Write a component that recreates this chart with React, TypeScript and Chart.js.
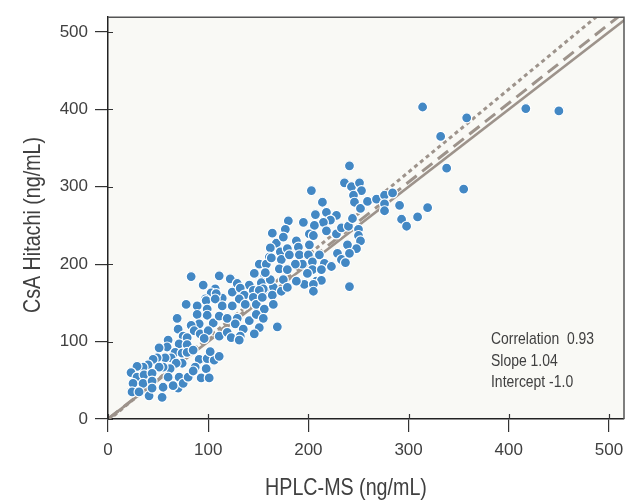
import React, { useEffect, useRef } from "react";
import { Chart, registerables } from "chart.js";

Chart.register(...registerables);

// HPLC-MS values (x) and CsA Hitachi values (y)
const hplcValues = [
  314, 358, 332, 417, 450, 338, 355, 319, 309, 293, 298, 241, 241, 291, 236, 243, 251, 253, 245, 246,
  252, 259, 268, 276, 284, 276, 276, 203, 214, 218, 207, 228, 222, 215, 206, 195, 180, 177, 164, 168,
  175, 162, 161, 151, 158, 147, 156, 141, 153, 165, 156, 164, 128, 172, 179, 188, 190, 201, 191, 200,
  211, 194, 187, 204, 216, 204, 213, 199, 208, 213, 196, 205, 188, 205, 223, 201, 205, 218, 228, 233,
  240, 250, 250, 252, 248, 239, 229, 233, 237, 241, 244,
  173, 163, 171, 146, 162, 175, 155, 83, 95, 111, 122, 107, 129, 103, 114, 124, 132, 97, 145, 136,
  131, 181, 179, 157, 173, 179, 153,
  108, 151, 78, 89, 98, 107, 99, 114, 124, 137, 145, 148, 154, 156, 165, 69, 89, 99, 91, 105,
  111, 119, 129, 127, 135, 141, 148, 155, 151, 146, 169, 70, 83, 86, 75, 71, 79, 79, 92, 100,
  96, 111, 119, 123, 132, 131, 60, 59, 51, 67, 63, 57, 49, 45, 74, 79, 85, 91, 99, 106,
  111, 102, 87, 98, 74, 68, 62, 55, 51, 40, 35, 29, 23, 29, 36, 44, 25, 35, 44, 24,
  31, 41, 44, 55, 54, 60, 71, 70, 65, 75, 80, 85, 93, 101,
];
const hitachiValues = [
  403, 389, 365, 401, 398, 324, 297, 273, 261, 258, 249, 327, 171, 276, 305, 300, 305, 295, 289, 280,
  272, 281, 284, 289, 292, 278, 269, 295, 280, 267, 264, 263, 257, 254, 250, 254, 256, 245, 240, 227,
  235, 221, 209, 200, 200, 187, 187, 173, 176, 170, 166, 160, 174, 216, 220, 230, 222, 225, 212, 212,
  212, 200, 200, 203, 201, 193, 193, 188, 178, 179, 174, 174, 178, 165, 197, 239, 237, 243, 239, 247,
  249, 245, 237, 230, 220, 225, 214, 206, 202, 214, 259,
  206, 208, 194, 188, 180, 180, 168, 184, 173, 185, 181, 168, 175, 163, 156, 164, 169, 155, 166, 160,
  155, 212, 193, 189, 165, 170, 156,
  162, 166, 148, 146, 153, 155, 142, 146, 146, 148, 157, 148, 157, 142, 148, 130, 135, 134, 123, 124,
  133, 130, 130, 123, 116, 127, 135, 130, 118, 110, 119, 116, 121, 114, 107, 97, 105, 96, 110, 114,
  104, 107, 112, 105, 107, 102, 102, 93, 92, 86, 79, 79, 79, 77, 85, 86, 89, 77, 78, 76,
  81, 87, 67, 65, 72, 72, 65, 67, 67, 70, 67, 68, 60, 54, 57, 59, 46, 46, 49, 35,
  35, 30, 40, 41, 28, 54, 54, 40, 43, 46, 54, 62, 53, 53,
];

// reference lines: x ends, slopes and intercepts
const lineXEnds = [0, 540];
const identityLine = { slope: 1, intercept: 0 };
const dashedLine = { slope: 1.02, intercept: 0 };
const dottedLine = { slope: 1.07, intercept: -2 };

const xAxisMax = 515;
const yAxisMax = 519;
const tickStep = 100;

const xTitle = "HPLC-MS (ng/mL)";
const yTitle = "CsA Hitachi (ng/mL)";
const statLines = ["Correlation  0.93", "Slope 1.04", "Intercept -1.0"];

const FONT = "'Liberation Sans', Arial, sans-serif";
const TEXT = "#404040";
const LINE = "#9d938b";
const CONDENSE = 0.82;

function linePoints(l: { slope: number; intercept: number }) {
  return lineXEnds.map((x) => ({ x, y: l.slope * x + l.intercept }));
}

const framePlugin = {
  id: "framePlugin",
  beforeDraw(chart: any) {
    const { ctx, chartArea: a } = chart;
    ctx.save();
    ctx.fillStyle = "#f9f9f5";
    ctx.fillRect(a.left, a.top, a.right - a.left, a.bottom - a.top);
    ctx.restore();
  },
  afterDraw(chart: any) {
    const { ctx, chartArea: a, scales } = chart;
    ctx.save();
    // top / right frame
    ctx.strokeStyle = "#555";
    ctx.lineWidth = 1.5;
    ctx.beginPath();
    ctx.moveTo(a.left, a.top);
    ctx.lineTo(a.right, a.top);
    ctx.lineTo(a.right, a.bottom);
    ctx.stroke();
    // inner part of tick marks
    ctx.strokeStyle = "#333";
    ctx.lineWidth = 1.2;
    ctx.beginPath();
    scales.x.ticks.forEach((t: any) => {
      const px = Math.round(scales.x.getPixelForValue(t.value)) + 0.5;
      ctx.moveTo(px, a.bottom - 5);
      ctx.lineTo(px, a.bottom);
    });
    scales.y.ticks.forEach((t: any) => {
      const py = Math.round(scales.y.getPixelForValue(t.value)) + 0.5;
      ctx.moveTo(a.left, py);
      ctx.lineTo(a.left + 5, py);
    });
    ctx.stroke();

    // axis titles (condensed look)
    ctx.fillStyle = TEXT;
    ctx.font = `24px ${FONT}`;
    ctx.textAlign = "center";
    ctx.textBaseline = "middle";
    ctx.save();
    ctx.translate(346, 488);
    ctx.scale(CONDENSE, 1);
    ctx.fillText(xTitle, 0, 0);
    ctx.restore();
    ctx.save();
    ctx.translate(33, 225);
    ctx.rotate(-Math.PI / 2);
    ctx.scale(CONDENSE, 1);
    ctx.fillText(yTitle, 0, 0);
    ctx.restore();

    // statistics
    ctx.font = `17px ${FONT}`;
    ctx.textAlign = "left";
    ctx.textBaseline = "alphabetic";
    statLines.forEach((s, i) => {
      ctx.save();
      ctx.translate(491, 344 + i * 21.5);
      ctx.scale(CONDENSE, 1);
      ctx.fillText(s, 0, 0);
      ctx.restore();
    });
    ctx.restore();
  },
};

export default function App() {
  const ref = useRef<HTMLCanvasElement | null>(null);

  useEffect(() => {
    if (!ref.current) return;
    const points = hplcValues.map((x, i) => ({ x, y: hitachiValues[i] }));
    const chart = new Chart(ref.current, {
      type: "scatter",
      data: {
        datasets: [
          {
            type: "scatter",
            label: "Samples",
            data: points,
            pointRadius: 5,
            pointBorderWidth: 1.2,
            pointBackgroundColor: "#4388c4",
            pointBorderColor: "#ffffff",
          } as any,
          {
            type: "line",
            label: "Identity",
            data: linePoints(identityLine),
            borderColor: LINE,
            borderWidth: 2.6,
            pointRadius: 0,
            fill: false,
          },
          {
            type: "line",
            label: "Dashed",
            data: linePoints(dashedLine),
            borderColor: LINE,
            borderWidth: 3,
            borderDash: [13, 7],
            pointRadius: 0,
            fill: false,
          },
          {
            type: "line",
            label: "Dotted",
            data: linePoints(dottedLine),
            borderColor: LINE,
            borderWidth: 3,
            borderDash: [4, 3.5],
            pointRadius: 0,
            fill: false,
          },
        ],
      },
      options: {
        responsive: false,
        animation: false,
        events: [],
        layout: { padding: { top: 12, right: 13, left: 0, bottom: 0 } },
        plugins: { legend: { display: false }, tooltip: { enabled: false } },
        scales: {
          x: {
            type: "linear",
            min: 0,
            max: xAxisMax,
            afterFit: (s: any) => {
              s.height = 82;
            },
            ticks: {
              stepSize: tickStep,
              includeBounds: false,
              padding: 8,
              color: TEXT,
              font: { family: FONT, size: 17 },
              maxRotation: 0,
            },
            grid: {
              drawOnChartArea: false,
              drawTicks: true,
              tickLength: 13,
              color: "#333",
              lineWidth: 1.2,
            },
            border: { display: true, color: "#222", width: 1.5 },
          },
          y: {
            type: "linear",
            min: 0,
            max: yAxisMax,
            afterFit: (s: any) => {
              s.width = 108;
            },
            ticks: {
              stepSize: tickStep,
              includeBounds: false,
              padding: 7,
              color: TEXT,
              font: { family: FONT, size: 17 },
            },
            grid: {
              drawOnChartArea: false,
              drawTicks: true,
              tickLength: 13,
              color: "#333",
              lineWidth: 1.2,
            },
            border: { display: true, color: "#222", width: 1.5 },
          },
        },
      },
      plugins: [framePlugin],
    });
    return () => chart.destroy();
  }, []);

  return (
    <div style={{ position: "absolute", left: 0, top: 0, width: 637, height: 501, background: "#fff" }}>
      <canvas ref={ref} width={637} height={501} style={{ display: "block" }} />
    </div>
  );
}
